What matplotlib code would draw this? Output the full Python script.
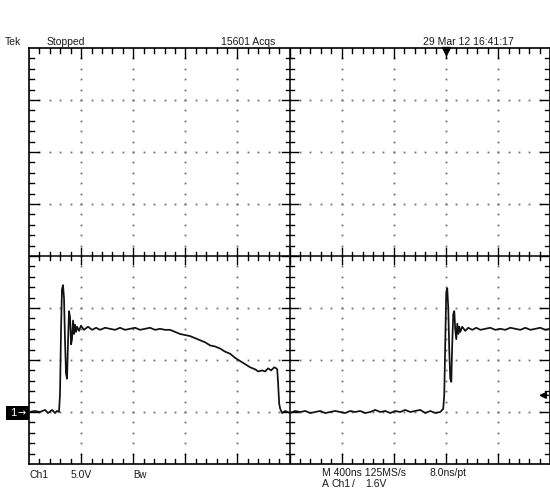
import numpy as np
import matplotlib
matplotlib.use("Agg")
import matplotlib.pyplot as plt
from matplotlib.patches import Rectangle

# Channel 1 record: time (ns) and voltage (V)
t_ns = [0, 46, 84, 123, 146, 177, 200, 215, 230, 238, 246, 253, 261, 269, 276, 284, 292,
        300, 307, 315, 323, 330, 338, 346, 353, 361, 369, 384, 399, 422, 453, 484, 515,
        545, 584, 622, 660, 699, 737, 776, 814, 852, 890, 929, 967, 1006, 1044, 1083,
        1121, 1160, 1198, 1236, 1275, 1313, 1352, 1390, 1428, 1467, 1505, 1544, 1582,
        1620, 1659, 1697, 1736, 1759, 1789, 1812, 1835, 1858, 1882, 1897, 1905, 1912,
        1920, 1928, 1943, 1966, 2004, 2043, 2081, 2120, 2158, 2197, 2235, 2273, 2312,
        2350, 2388, 2427, 2465, 2503, 2542, 2580, 2619, 2657, 2696, 2734, 2772, 2811,
        2849, 2887, 2926, 2964, 3003, 3041, 3080, 3118, 3156, 3179, 3187, 3195, 3202,
        3210, 3218, 3225, 3233, 3241, 3248, 3256, 3264, 3271, 3279, 3287, 3295, 3302,
        3310, 3325, 3348, 3371, 3402, 3433, 3464, 3502, 3540, 3579, 3617, 3655, 3694,
        3732, 3771, 3809, 3848, 3886, 3924, 3963, 4000]
ch1_v = [0.0, 0.1, 0.0, 0.2, -0.1, 0.2, -0.1, 0.1, 0.0, 1.7, 8.0, 11.8, 12.2, 10.9, 7.0,
         3.7, 3.2, 7.0, 9.7, 9.1, 6.5, 7.0, 8.8, 7.5, 8.4, 7.7, 8.2, 7.8, 8.3, 7.9, 8.2,
         7.9, 8.1, 7.9, 8.1, 8.0, 7.9, 8.1, 7.9, 8.0, 8.1, 7.9, 8.0, 8.1, 7.9, 8.0, 7.9,
         7.9, 7.7, 7.5, 7.4, 7.3, 7.1, 6.9, 6.7, 6.4, 6.3, 6.1, 5.8, 5.6, 5.2, 4.9, 4.6,
         4.3, 4.1, 3.9, 4.0, 3.9, 4.2, 4.0, 4.3, 4.2, 4.1, 2.7, 0.8, 0.3, -0.1, 0.1, -0.1,
         0.1, 0.0, 0.1, -0.1, 0.0, 0.1, -0.1, 0.0, 0.1, 0.0, -0.1, 0.1, 0.0, 0.1, -0.1,
         0.0, 0.2, 0.0, 0.1, -0.1, 0.1, 0.0, 0.2, 0.0, 0.1, 0.2, -0.1, 0.1, -0.1, 0.0,
         0.3, 1.7, 7.0, 11.5, 11.9, 9.9, 6.1, 3.2, 2.9, 6.5, 9.4, 9.7, 8.0, 7.0, 8.5, 7.5,
         8.2, 7.7, 8.2, 7.8, 8.1, 7.9, 8.1, 7.9, 8.0, 8.1, 7.9, 8.0, 7.9, 8.1, 8.0, 7.9,
         8.1, 7.9, 8.0, 8.1, 7.9, 8.0]

# Scope settings
time_per_div = 400      # ns/div
volts_per_div = 5.0     # V/div
n_xdiv, n_ydiv = 10, 8
ground_div = -3         # ground reference position relative to screen center
trigger_level = 1.6     # V
trigger_time = 3202     # ns

header_left = ["Tek", "Stopped"]
header_acqs = "15601 Acqs"
header_date = "29 Mar 12 16:41:17"

W, H = 550, 493
fig = plt.figure(figsize=(W / 100, H / 100), dpi=100)
fig.patch.set_facecolor("white")

L, T, R, B = 29, 48, 550.2, 464
ax = fig.add_axes([L / W, 1 - B / H, (R - L) / W, (B - T) / H])

x0, x1 = 0, n_xdiv * time_per_div
y0 = (-n_ydiv / 2 - ground_div) * volts_per_div
y1 = y0 + n_ydiv * volts_per_div
ycen = (y0 + y1) / 2
xcen = (x0 + x1) / 2
ax.set_xlim(x0, x1)
ax.set_ylim(y0, y1)
ax.set_xticks([]); ax.set_yticks([])
for s in ax.spines.values():
    s.set_color("black"); s.set_linewidth(1.2)

px_x = (x1 - x0) / (R - L)
px_y = (y1 - y0) / (B - T)
minor_x = time_per_div / 5
minor_y = volts_per_div / 5

# dotted graticule
dot_kw = dict(ls="none", marker="s", ms=1.3, mew=0, color="#707070", zorder=1)
for k in range(1, n_xdiv):
    xv = x0 + k * time_per_div
    if abs(xv - xcen) < 1e-6:
        continue
    ys = np.arange(y0 + minor_y, y1, minor_y)
    ax.plot(np.full_like(ys, xv), ys, **dot_kw)
for k in range(1, n_ydiv):
    yv = y0 + k * volts_per_div
    if abs(yv - ycen) < 1e-6:
        continue
    xs = np.arange(x0 + minor_x, x1, minor_x)
    ax.plot(xs, np.full_like(xs, yv), **dot_kw)

# center cross with ticks
ax.axvline(xcen, color="black", lw=1.1, zorder=2)
ax.axhline(ycen, color="black", lw=1.1, zorder=2)
for i, xv in enumerate(np.arange(x0 + minor_x, x1, minor_x)):
    major = (i + 1) % 5 == 0
    h = (8 if major else 4) * px_y
    ax.plot([xv, xv], [ycen - h, ycen + h], color="black", lw=1, zorder=2)
    hb = (10 if major else 5) * px_y
    ax.plot([xv, xv], [y0, y0 + hb], color="black", lw=1, zorder=2)
    ax.plot([xv, xv], [y1, y1 - hb], color="black", lw=1, zorder=2)
for i, yv in enumerate(np.arange(y0 + minor_y, y1, minor_y)):
    major = (i + 1) % 5 == 0
    w = (8 if major else 4) * px_x
    ax.plot([xcen - w, xcen + w], [yv, yv], color="black", lw=1, zorder=2)
    wb = (10 if major else 5) * px_x
    ax.plot([x0, x0 + wb], [yv, yv], color="black", lw=1, zorder=2)
    ax.plot([x1, x1 - wb], [yv, yv], color="black", lw=1, zorder=2)

# waveform
ax.plot(t_ns, ch1_v, color="#111111", lw=1.25, zorder=3, clip_on=True)

# trigger position marker on top border
ax.plot([trigger_time], [y1 - 3 * px_y], marker="v", ms=6, color="black",
        clip_on=False, zorder=4)
# trigger level arrow on right edge
ax.annotate("", xy=(x1 - 14 * px_x, trigger_level), xytext=(x1 + 1 * px_x, trigger_level),
            arrowprops=dict(arrowstyle="-|>", color="black", lw=1.1, mutation_scale=10),
            annotation_clip=False, zorder=4)

# channel ground marker: black tag with white "1→"
tag_y = 413
fig.patches.append(Rectangle((6 / W, 1 - (tag_y + 7) / H), 23 / W, 14 / H,
                             transform=fig.transFigure, fc="black", ec="none"))
fam = ["Liberation Sans", "DejaVu Sans"]
fig.text(10 / W, 1 - tag_y / H, "1", color="white", ha="left", va="center",
         fontsize=8, family=fam)
fig.text(17 / W, 1 - tag_y / H, "\u2192", color="white", ha="left", va="center",
         fontsize=7, family=["DejaVu Sans"])

tc = "#1a1a1a"
fs = 7.5


def txt(x, y, s, ha="left", size=fs):
    fig.text(x / W, 1 - y / H, s, ha=ha, va="center", fontsize=size, color=tc, family=fam)


txt(5, 42, header_left[0])
txt(47, 42, header_left[1])
txt(275, 42, header_acqs, ha="right")
txt(423, 42, header_date)

txt(30, 475, "Ch1")
txt(71, 475, "5.0V")
txt(133, 475, "Bw", size=7)
txt(322, 473, "M 400ns 125MS/s")
txt(430, 473, "8.0ns/pt")
txt(322, 484, "A")
txt(331, 484, "Ch1")
txt(352, 484, "/")
txt(365, 484, "1.6V")

fig.savefig("out.png", dpi=100, facecolor="white")
